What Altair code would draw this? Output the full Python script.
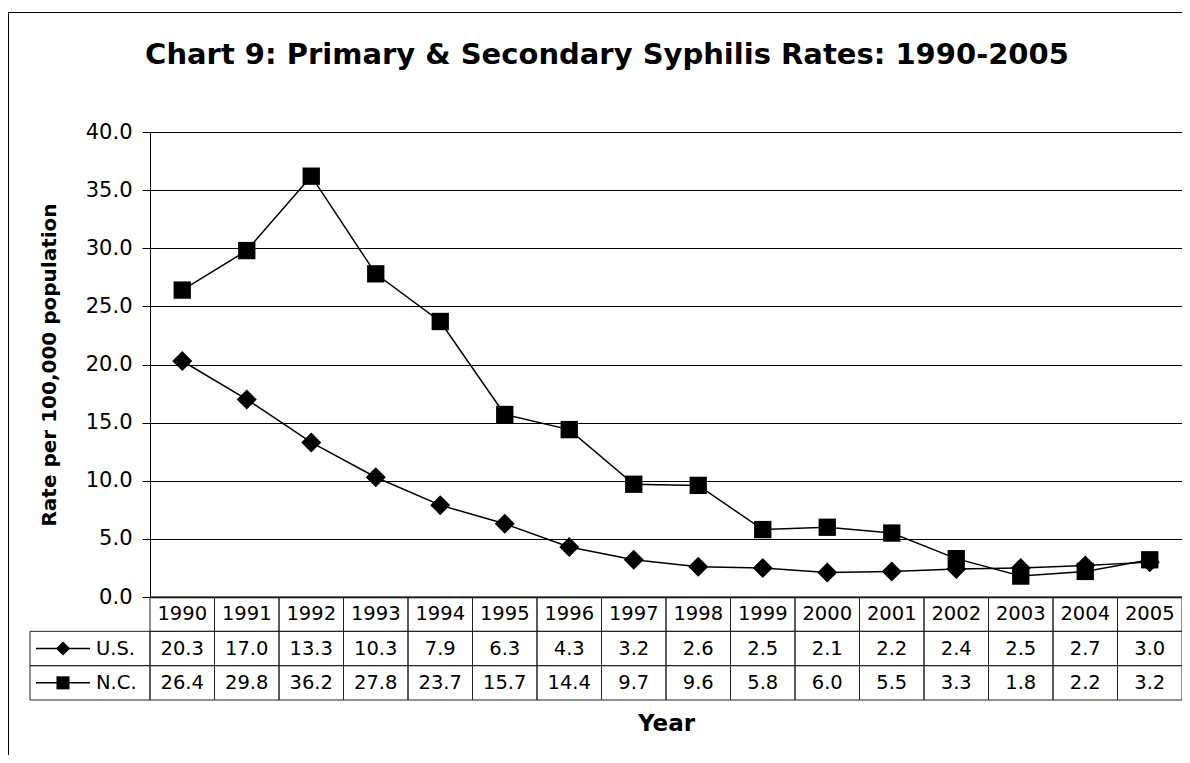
import altair as alt
import pandas as pd

years = list(range(1990, 2006))
us_rates = [20.3, 17.0, 13.3, 10.3, 7.9, 6.3, 4.3, 3.2, 2.6, 2.5, 2.1, 2.2, 2.4, 2.5, 2.7, 3.0]
nc_rates = [26.4, 29.8, 36.2, 27.8, 23.7, 15.7, 14.4, 9.7, 9.6, 5.8, 6.0, 5.5, 3.3, 1.8, 2.2, 3.2]
series_names = ["U.S.", "N.C."]
series_shapes = ["diamond", "square"]
y_ticks = [0, 5, 10, 15, 20, 25, 30, 35, 40]
table_rows = ["Year", "U.S.", "N.C."]

title_text = "Chart 9: Primary & Secondary Syphilis Rates: 1990-2005"
y_title = "Rate per 100,000 population"
x_title = "Year"

FONT = "DejaVu Sans"
W, H = 1032, 465

# long data
rows = []
for name, vals in zip(series_names, [us_rates, nc_rates]):
    for yr, v in zip(years, vals):
        rows.append({"year": yr, "series": name, "value": v})
df = pd.DataFrame(rows)

tab = []
for yr in years:
    tab.append({"year": yr, "row": "Year", "label": str(yr)})
for name, vals in zip(series_names, [us_rates, nc_rates]):
    for yr, v in zip(years, vals):
        tab.append({"year": yr, "row": name, "label": f"{v:.1f}"})
tab_df = pd.DataFrame(tab)

leg_df = pd.DataFrame({"row": series_names, "shape": series_shapes, "sz": [200, 170]})
one = pd.DataFrame({"a": [0]})

x_enc = alt.X("year:O", scale=alt.Scale(paddingInner=0, paddingOuter=0),
              axis=alt.Axis(labels=False, ticks=False, domain=True, domainColor="black",
                            domainWidth=1.5, title=x_title, titleFont=FONT, titleFontSize=23,
                            titleFontWeight="bold", titlePadding=115, titleColor="black"))

row_scale = alt.Scale(domain=table_rows, range=[H, H + 103], paddingInner=0, paddingOuter=0)

base = alt.Chart(df)
lines = base.mark_line(color="black", strokeWidth=1.5).encode(
    x=x_enc,
    y=alt.Y("value:Q", scale=alt.Scale(domain=[0, 40], nice=False),
            axis=alt.Axis(values=y_ticks, format=".1f", title=y_title, titleFont=FONT,
                          titleFontSize=20, titleFontWeight="bold", titleColor="black",
                          titlePadding=26,
                          labelFont=FONT, labelFontSize=21, labelColor="black",
                          labelPadding=10, tickSize=8, tickColor="black",
                          domainColor="black", gridColor="black", gridWidth=1,
                          grid=True)),
    detail="series:N",
)
points = base.mark_point(filled=True, color="black", opacity=1).encode(
    x="year:O",
    y="value:Q",
    shape=alt.Shape("series:N", scale=alt.Scale(domain=series_names, range=series_shapes), legend=None),
    size=alt.Size("series:N", scale=alt.Scale(domain=series_names, range=[400, 300]), legend=None),
)
plot = alt.layer(lines, points)

cells = alt.Chart(tab_df).mark_rect(fillOpacity=0, stroke="#222222", strokeWidth=1).encode(
    x="year:O",
    y=alt.Y("row:O", scale=row_scale, axis=None),
)
cell_text = alt.Chart(tab_df).mark_text(font=FONT, fontSize=19.5, color="black", baseline="middle").encode(
    x="year:O",
    y=alt.Y("row:O", scale=row_scale, axis=None),
    text="label:N",
)
leg_cells = alt.Chart(leg_df).mark_rect(fillOpacity=0, stroke="#222222", strokeWidth=1).encode(
    x=alt.value(-120), x2=alt.value(0),
    y=alt.Y("row:O", scale=row_scale, axis=None),
)
leg_rule = alt.Chart(leg_df).mark_rule(color="black", strokeWidth=1.5).encode(
    x=alt.value(-114), x2=alt.value(-60),
    y=alt.Y("row:O", scale=row_scale, axis=None),
)
leg_pts = alt.Chart(leg_df).mark_point(filled=True, color="black", opacity=1).encode(
    x=alt.value(-87),
    y=alt.Y("row:O", scale=row_scale, axis=None),
    shape=alt.Shape("shape:N", scale=None),
    size=alt.Size("sz:Q", scale=None),
)
leg_text = alt.Chart(leg_df).mark_text(font=FONT, fontSize=19.5, color="black", align="left",
                                       baseline="middle").encode(
    x=alt.value(-54),
    y=alt.Y("row:O", scale=row_scale, axis=None),
    text="row:N",
)
table = alt.layer(cells, cell_text, leg_cells, leg_rule, leg_pts, leg_text)

frame = alt.Chart(one).mark_rect(fillOpacity=0, stroke="black", strokeWidth=1).encode(
    x=alt.value(-141.5), x2=alt.value(1070), y=alt.value(-119.5), y2=alt.value(660),
)

chart = alt.layer(frame, plot, table).resolve_scale(y="independent").properties(
    width=W, height=H,
    title=alt.Title(title_text, font=FONT, fontSize=29, fontWeight="bold", color="black",
                    anchor="middle", frame="group", dx=-59, offset=-58),
    autosize=alt.AutoSizeParams(type="none"),
    padding={"left": 142, "top": 124, "right": 0, "bottom": 158},
).configure_view(stroke="#888888", strokeWidth=1.5).configure(background="white")

chart.save("out.html", embed_options={"renderer": "svg", "actions": False})
